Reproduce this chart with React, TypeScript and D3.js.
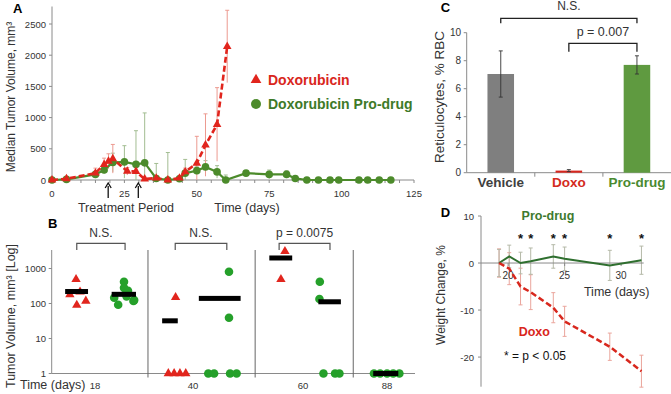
import * as d3 from "d3";

const FONT = "'Liberation Sans', Arial, Helvetica, sans-serif";
const RED = "#e1251d";
const RED_TXT = "#d9261c";
const GREEN = "#4c8b2b";
const GREEN_B = "#25a02a";
const GREEN_DARK = "#2f6f2f";
const AXIS = "#8a8a8a";
const TXT = "#333333";

// ---- Panel A: median tumor volume over time ----
const doxDays = [0, 5, 15, 18, 19.5, 21, 26, 29, 32, 36, 40, 44, 46, 50, 53, 57, 60.5];
const doxVolume = [0, 20, 110, 250, 300, 340, 140, 135, 15, 30, 0, 30, 130, 270, 560, 890, 2140];
const doxErr = [0, 20, 80, 100, 120, 230, 60, 40, 30, 40, 0, 20, 60, 430, 500, 590, 580];

const proDays = [0, 5, 15, 18, 21, 25, 29, 32, 36, 40, 44, 46, 50, 53, 57, 60, 67, 75, 81, 84, 88, 92, 96, 99, 106, 109, 113, 117];
const proVolume = [0, 10, 90, 160, 280, 290, 250, 275, 25, 0, 20, 110, 150, 210, 130, 0, 110, 90, 90, 25, 0, 0, 0, 0, 0, 0, 0, 0];
const proErr = [0, 10, 40, 60, 150, 260, 540, 800, 240, 440, 40, 220, 60, 100, 100, 80, 30, 70, 60, 10, 0, 0, 0, 0, 0, 0, 0, 0];

const volumeTicks = [0, 500, 1000, 1500, 2000, 2500];
const dayTicks = [0, 25, 50, 75, 100, 125];
const treatmentArrows = [19.4, 29.8];

// ---- Panel B: individual tumor volumes (log) ----
const groupLabels = ["18", "40", "60", "88"];
const groupLabelPos = [11.9, 38.9, 69.2, 92.3];
const groupDividers = [26.5, 56, 83];
const logTicks = [1, 10, 100, 1000];

const redPosX = [5, 6.7, 6.9, 7.8, 9.4, 34.1, 32.1, 33.7, 35.3, 36.9, 64.2, 63.1];
const redVol = [180, 490, 90, 215, 118, 150, 1, 1, 1, 1, 3100, 490];
const greenPosX = [17.2, 18.3, 19.9, 19.9, 20.6, 21, 22.5, 22.7, 48.8, 48.8, 43.1, 44.7, 49.1, 50.9, 73.8, 73.7, 74.8, 78, 79.2, 88.7, 90.4, 92.3, 94, 95.7];
const greenVol = [146, 92, 420, 280, 160, 230, 118, 125, 810, 39, 1, 1, 1, 1, 420, 135, 1, 1, 1, 1, 1, 1, 1, 1];

const medianFrom = [3.7, 16.5, 30.4, 40.5, 59.9, 73.4, 88.5];
const medianTo = [10, 23.2, 34.7, 52, 66.2, 79.6, 95.4];
const medianVol = [220, 183, 32, 140, 2000, 112, 1];

const bracketFromB = [6.9, 34, 62.6];
const bracketToB = [20.2, 48.2, 76.6];
const bracketTextB = ["N.S.", "N.S.", "p = 0.0075"];

// ---- Panel C: reticulocytes ----
const treatments = ["Vehicle", "Doxo", "Pro-drug"];
const reticulocytes = [7.05, 0.15, 7.7];
const reticErr = [1.65, 0.07, 0.65];
const reticTicks = [0, 2, 4, 6, 8, 10];

// ---- Panel D: weight change ----
const weightDays = [19.2, 20.1, 21.1, 22, 24, 25, 29, 31.8];
const proWeight = [0, 1.4, 0, 0.4, 1.4, 0.9, -0.5, 0.6];
const proWeightErr = [2.9, 2.4, 2.3, 2.8, 2.5, 2.5, 3.2, 3.0];
const doxWeight = [0, -1.2, -5, -6.2, -9.5, -12.4, -17.8, -23];
const doxWeightErr = [3, 3.4, 3.9, 3.7, 3.2, 3.2, 2.9, 3.4];
const starDays = [21.1, 22, 24, 25, 29, 31.8];
const weightTicks = [10, 0, -10, -20];
const weightDayTicks = [20, 25, 30];

const tri = (area: number) => d3.symbol(d3.symbolTriangle, area)() ?? "";

function PanelA() {
  const x = d3.scaleLinear().domain([0, 125]).range([52, 414]);
  const y = d3.scaleLinear().domain([0, 2500]).range([180, 24]);
  const line = d3
    .line<[number, number]>()
    .x((d) => x(d[0]))
    .y((d) => y(d[1]));
  const dox = doxDays.map((d, i) => [d, doxVolume[i]] as [number, number]);
  const pro = proDays.map((d, i) => [d, proVolume[i]] as [number, number]);

  const errBars = (days: number[], vals: number[], errs: number[], color: string) =>
    days.map((d, i) =>
      errs[i] > 0 ? (
        <g key={`e-${color}-${i}`} stroke={color} strokeWidth={1}>
          <line x1={x(d)} x2={x(d)} y1={y(vals[i] + errs[i])} y2={y(Math.max(0, vals[i] - errs[i]))} />
          <line x1={x(d) - 2} x2={x(d) + 2} y1={y(vals[i] + errs[i])} y2={y(vals[i] + errs[i])} />
        </g>
      ) : null
    );

  return (
    <g>
      <text x={13} y={13} fontWeight="bold" fontSize={13}>A</text>
      {/* axes */}
      <line x1={x(0)} x2={x(0)} y1={y(0)} y2={y(2780)} stroke={AXIS} />
      <line x1={x(0)} x2={x(125)} y1={y(0)} y2={y(0)} stroke={AXIS} />
      {d3.range(0, 126, 5).map((t) => (
        <line key={t} x1={x(t)} x2={x(t)} y1={y(0)} y2={y(0) + 3} stroke={AXIS} />
      ))}
      {volumeTicks.map((t) => (
        <g key={t}>
          <line x1={x(0) - 3} x2={x(0)} y1={y(t)} y2={y(t)} stroke={AXIS} />
          <text x={46} y={y(t) + 3.5} textAnchor="end" fontSize={9.5} fill={TXT}>{t}</text>
        </g>
      ))}
      {dayTicks.map((t) => (
        <text key={t} x={x(t)} y={197} textAnchor="middle" fontSize={9.5} fill={TXT}>{t}</text>
      ))}
      {treatmentArrows.map((d) => (
        <g key={d} stroke="#111" fill="#111">
          <line x1={x(d)} x2={x(d)} y1={186} y2={198} strokeWidth={1.3} />
          <path d={`M${x(d) - 3},${188} L${x(d)},${183} L${x(d) + 3},${188}`} fill="none" strokeWidth={1.3} />
        </g>
      ))}
      <text x={126} y={212} textAnchor="middle" fontSize={12.5} fill={TXT}>Treatment Period</text>
      <text x={247} y={212} textAnchor="middle" fontSize={12.5} fill={TXT}>Time (days)</text>
      <text transform="translate(15,97) rotate(-90)" textAnchor="middle" fontSize={12} fill={TXT}>
        Median Tumor Volume, mm³
      </text>

      {errBars(proDays, proVolume, proErr, "#a3bd92")}
      {errBars(doxDays, doxVolume, doxErr, "#ec9a90")}

      <path d={line(pro) ?? ""} fill="none" stroke={GREEN} strokeWidth={2.2} />
      {pro.map((d, i) => (
        <circle key={i} cx={x(d[0])} cy={y(d[1])} r={3.8} fill={GREEN} />
      ))}
      <path d={line(dox) ?? ""} fill="none" stroke={RED} strokeWidth={2.6} strokeDasharray="6 3" />
      {dox.map((d, i) => (
        <path key={i} d={tri(32)} transform={`translate(${x(d[0])},${y(d[1])})`} fill={RED} />
      ))}

      {/* legend */}
      <path d={tri(50)} transform="translate(256,80)" fill={RED} />
      <text x={268} y={85} fontWeight="bold" fontSize={14} fill={RED_TXT}>Doxorubicin</text>
      <circle cx={256} cy={104} r={5} fill={GREEN} />
      <text x={268} y={108.5} fontWeight="bold" fontSize={14} fill="#3e7a28">Doxorubicin Pro-drug</text>
    </g>
  );
}

function PanelB() {
  const x = d3.scaleLinear().domain([0, 100]).range([51.7, 415]);
  const y = d3.scaleLog().domain([1, 3380]).range([373.5, 250]);
  return (
    <g>
      <text x={48} y={227.5} fontWeight="bold" fontSize={13}>B</text>
      <line x1={x(0)} x2={x(0)} y1={y(1)} y2={y(3380)} stroke={AXIS} />
      <line x1={x(0)} x2={x(100)} y1={y(1)} y2={y(1)} stroke={AXIS} />
      {logTicks.map((t) => (
        <g key={t}>
          <line x1={x(0) - 3} x2={x(0)} y1={y(t)} y2={y(t)} stroke={AXIS} />
          <text x={46} y={y(t) + 3.5} textAnchor="end" fontSize={9.5} fill={TXT}>{t}</text>
        </g>
      ))}
      {groupDividers.map((g) => (
        <line key={g} x1={x(g)} x2={x(g)} y1={y(3380)} y2={y(1) + 4} stroke="#666" />
      ))}
      <text x={20} y={389} fontSize={12.5} fill={TXT}>Time (days)</text>
      {groupLabels.map((l, i) => (
        <text key={l} x={x(groupLabelPos[i])} y={389} textAnchor="middle" fontSize={9.5} fill={TXT}>{l}</text>
      ))}
      <text transform="translate(15,316) rotate(-90)" textAnchor="middle" fontSize={12.5} fill={TXT}>
        Tumor Volume, mm³ [Log]
      </text>

      {bracketFromB.map((b, i) => (
        <g key={i}>
          <path
            d={`M${x(b)},${y(3380)} V${y(5200)} H${x(bracketToB[i])} V${y(3380)}`}
            fill="none"
            stroke="#555"
            strokeWidth={1.2}
          />
          <text x={(x(b) + x(bracketToB[i])) / 2} y={237} textAnchor="middle" fontSize={12} fill={TXT}>
            {bracketTextB[i]}
          </text>
        </g>
      ))}

      {redPosX.map((u, i) => (
        <path key={`r${i}`} d={tri(38)} transform={`translate(${x(u)},${y(redVol[i])})`} fill={RED} />
      ))}
      {greenPosX.map((u, i) => (
        <circle key={`g${i}`} cx={x(u)} cy={y(greenVol[i])} r={4.3} fill={GREEN_B} />
      ))}
      {medianFrom.map((m, i) => (
        <rect key={`m${i}`} x={x(m)} width={x(medianTo[i]) - x(m)} y={y(medianVol[i]) - 2.5} height={5} fill="#000" />
      ))}
    </g>
  );
}

function PanelC() {
  const x = d3.scaleBand<string>().domain(treatments).range([466.7, 671]).padding(0);
  const y = d3.scaleLinear().domain([0, 10]).range([172.7, 32.7]);
  const bw = x.bandwidth() * 0.39;
  const colors = ["#7f7f7f", "#d7261e", "#5f9a40"];
  const labelColors = ["#404040", "#d42a20", "#4a8a30"];
  const cx = (t: string) => (x(t) ?? 0) + x.bandwidth() / 2;
  return (
    <g>
      <text x={440.7} y={11.7} fontWeight="bold" fontSize={13}>C</text>
      <line x1={466.7} x2={466.7} y1={y(0)} y2={y(10)} stroke={AXIS} />
      <line x1={466.7} x2={671} y1={y(0)} y2={y(0)} stroke={AXIS} />
      {reticTicks.map((t) => (
        <g key={t}>
          <line x1={463.7} x2={466.7} y1={y(t)} y2={y(t)} stroke={AXIS} />
          <text x={461} y={y(t) + 3.5} textAnchor="end" fontSize={10} fill={TXT}>{t}</text>
        </g>
      ))}
      {treatments.slice(1).map((t) => (
        <line key={t} x1={x(t) ?? 0} x2={x(t) ?? 0} y1={y(0)} y2={y(0) + 4} stroke={AXIS} />
      ))}
      <text transform="translate(444,97) rotate(-90)" textAnchor="middle" fontSize={13.5} fill={TXT}>
        Reticulocytes, % RBC
      </text>
      {treatments.map((t, i) => (
        <g key={t}>
          <rect x={cx(t) - bw / 2} width={bw} y={y(reticulocytes[i])} height={y(0) - y(reticulocytes[i])} fill={colors[i]} />
          <g stroke="#333" strokeWidth={0.9}>
            <line x1={cx(t)} x2={cx(t)} y1={y(reticulocytes[i] + reticErr[i])} y2={y(reticulocytes[i] - reticErr[i])} />
            <line x1={cx(t) - 2} x2={cx(t) + 2} y1={y(reticulocytes[i] + reticErr[i])} y2={y(reticulocytes[i] + reticErr[i])} />
            <line x1={cx(t) - 2} x2={cx(t) + 2} y1={y(reticulocytes[i] - reticErr[i])} y2={y(reticulocytes[i] - reticErr[i])} />
          </g>
          <text x={cx(t)} y={187} textAnchor="middle" fontWeight="bold" fontSize={13.5} fill={labelColors[i]}>{t}</text>
        </g>
      ))}
      <path
        d={`M${cx("Vehicle")},${y(10.67)} V${y(11.03)} H${cx("Pro-drug")} V${y(10.67)}`}
        fill="none" stroke="#222" strokeWidth={1.3}
      />
      <text x={(cx("Vehicle") + cx("Pro-drug")) / 2} y={10} textAnchor="middle" fontSize={12} fill={TXT}>N.S.</text>
      <path
        d={`M${cx("Doxo")},${y(8.64)} V${y(9.24)} H${cx("Pro-drug")} V${y(8.64)}`}
        fill="none" stroke="#222" strokeWidth={1.3}
      />
      <text x={(cx("Doxo") + cx("Pro-drug")) / 2} y={36} textAnchor="middle" fontSize={12.5} fill={TXT}>p = 0.007</text>
    </g>
  );
}

function PanelD() {
  const x = d3.scaleLinear().domain([17.6, 32]).range([481, 643.7]);
  const y = d3.scaleLinear().domain([-26.3, 10]).range([386.7, 216]);
  const line = d3
    .line<number>()
    .x((_, i) => x(weightDays[i]));
  const pro = line.y((d) => y(d))(proWeight) ?? "";
  const dox = line.y((d) => y(d))(doxWeight) ?? "";
  const bars = (vals: number[], errs: number[], color: string) =>
    weightDays.map((d, i) => (
      <g key={`${color}${i}`} stroke={color} strokeWidth={1}>
        <line x1={x(d)} x2={x(d)} y1={y(vals[i] + errs[i])} y2={y(vals[i] - errs[i])} />
        <line x1={x(d) - 2} x2={x(d) + 2} y1={y(vals[i] + errs[i])} y2={y(vals[i] + errs[i])} />
        <line x1={x(d) - 2} x2={x(d) + 2} y1={y(vals[i] - errs[i])} y2={y(vals[i] - errs[i])} />
      </g>
    ));
  return (
    <g>
      <text x={440.7} y={216.7} fontWeight="bold" fontSize={13}>D</text>
      <line x1={481} x2={481} y1={y(10)} y2={y(-26.3)} stroke={AXIS} />
      {weightTicks.map((t) => (
        <g key={t}>
          <line x1={478} x2={481} y1={y(t)} y2={y(t)} stroke={AXIS} />
          <text x={474} y={y(t) + 3.5} textAnchor="end" fontSize={9.5} fill={TXT}>{t}</text>
        </g>
      ))}
      <text transform="translate(445,295) rotate(-90)" textAnchor="middle" fontSize={12} fill={TXT}>
        Weight Change, %
      </text>
      {bars(doxWeight, doxWeightErr, "#eaa59c")}
      {bars(proWeight, proWeightErr, "#b5b9a8")}
      <line x1={481} x2={643.7} y1={y(0)} y2={y(0)} stroke={AXIS} />
      {weightDayTicks.map((t) => (
        <g key={t}>
          <line x1={x(t)} x2={x(t)} y1={y(0)} y2={y(0) + 3} stroke={AXIS} />
          <text x={x(t)} y={279} textAnchor="middle" fontSize={10} fill={TXT}>{t}</text>
        </g>
      ))}
      <path d={pro} fill="none" stroke={GREEN_DARK} strokeWidth={2} />
      <path d={dox} fill="none" stroke="#d8271d" strokeWidth={2.5} strokeDasharray="6 3" />
      {starDays.map((d) => (
        <text key={d} x={x(d)} y={243} textAnchor="middle" fontWeight="bold" fontSize={13} fill="#111">*</text>
      ))}
      <text x={548} y={219.5} textAnchor="middle" fontWeight="bold" fontSize={12.5} fill="#3e7a2e">Pro-drug</text>
      <text x={616.7} y={296} textAnchor="middle" fontSize={12.5} fill={TXT}>Time (days)</text>
      <text x={534.3} y={336} textAnchor="middle" fontWeight="bold" fontSize={12.5} fill={RED_TXT}>Doxo</text>
      <text x={535} y={360} textAnchor="middle" fontSize={12} fill="#111">* = p &lt; 0.05</text>
    </g>
  );
}

export default function App() {
  return (
    <svg
      width={671}
      height={394}
      viewBox="0 0 671 394"
      style={{ position: "absolute", left: 0, top: 0, background: "#fff" }}
      fontFamily={FONT}
    >
      <rect width={671} height={394} fill="#fff" />
      <PanelA />
      <PanelB />
      <PanelC />
      <PanelD />
    </svg>
  );
}
